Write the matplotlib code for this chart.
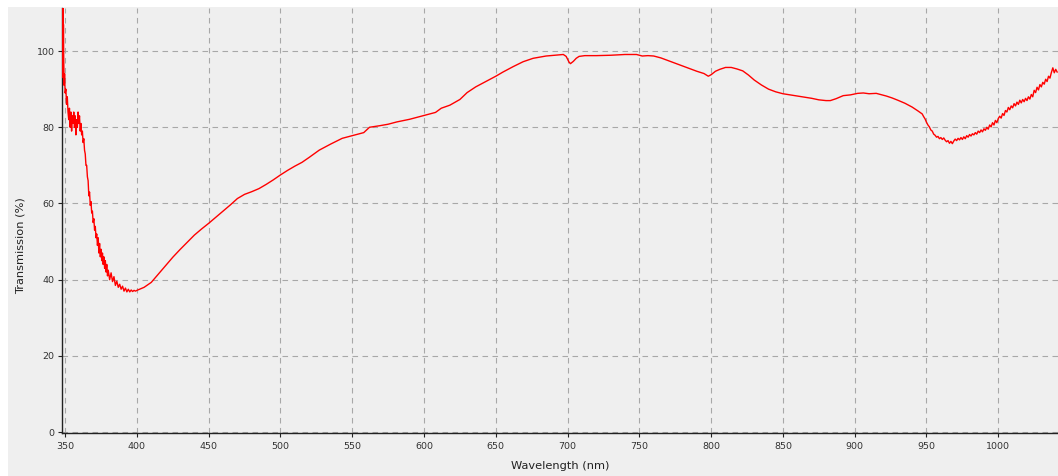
import matplotlib
matplotlib.use("Agg")
import matplotlib.pyplot as plt
from matplotlib.patches import Rectangle

# transmission spectrum, wavelength in nm / transmission in %
# short-wavelength end (noisy detector edge)
wl_blue = [347.6, 347.8, 348.0, 348.2, 348.4, 348.6, 348.8, 349.0, 349.3, 349.6,
           350.0, 350.5, 351.0, 351.5, 352.0, 352.5, 353.0, 353.5, 354.0, 354.5,
           355.0, 355.5, 356.0, 356.5, 357.0, 357.5, 358.0, 358.5, 359.0, 359.5,
           360.0, 360.5, 361.0, 361.5, 362.0, 362.5, 363.0, 363.5, 364.0, 364.5,
           365.0, 365.5, 366.0, 366.5, 367.0, 367.5, 368.0, 368.5, 369.0, 369.5,
           370.0, 370.5, 371.0, 371.5, 372.0, 372.5, 373.0, 373.5, 374.0, 374.5,
           375.0, 375.5, 376.0, 376.5, 377.0, 377.5, 378.0, 378.5, 379.0, 379.5,
           380.0, 381, 382, 383, 384, 385, 386, 387, 388, 389,
           390, 391, 392, 393, 394, 395, 396, 397, 398, 399]
tr_blue = [111, 96, 110, 101, 112, 93, 107, 98, 91, 94,
           89, 90, 86, 88, 84, 82, 85, 80, 84, 79,
           83, 81, 84, 80, 83, 78, 82, 80, 84, 81,
           83, 79, 81, 78, 79, 76, 77, 74, 73, 70,
           70, 67, 66, 62, 63, 59.5, 60.5, 57.5, 58, 55,
           56, 53, 54, 51, 52, 49, 51, 47, 49.5, 46,
           48, 45, 47, 44, 46, 43, 45, 42, 44, 41,
           42.5, 40, 41.8, 39.5, 40.8, 38.5, 39.6, 38, 38.8, 37.5,
           38.3, 37, 37.8, 36.8, 37.5, 36.8, 37.3, 36.9, 37.2, 37]

# smooth middle part
wl_mid = [400, 405, 410, 415, 420, 425, 430, 435, 440, 445,
          450, 455, 460, 465, 470, 475, 480, 485, 490, 495,
          500, 505, 510, 515, 520, 527, 535, 543, 550, 558,
          562, 569, 575, 581, 590, 595, 601, 608, 612, 618,
          625, 630, 636, 640, 645, 650, 655, 662, 669, 676,
          685, 694, 697, 699, 701, 702, 704, 706, 708, 712,
          720, 730, 740, 748, 752, 756, 760, 765, 770, 775,
          780, 785, 790, 795, 798, 800, 803, 806, 810, 814,
          818, 822, 826, 830, 835, 840, 845, 850, 855, 860,
          865, 870, 875, 880, 883, 887, 892, 897, 902, 906,
          910, 915, 918, 922, 926, 930, 935, 940, 944]
tr_mid = [37.2, 38, 39.3, 41.5, 43.7, 45.9, 47.9, 49.8, 51.7, 53.3,
          54.8, 56.4, 58, 59.6, 61.3, 62.4, 63.1, 63.9, 65, 66.2,
          67.5, 68.7, 69.8, 70.8, 72.1, 74, 75.6, 77.1, 77.8, 78.6,
          80, 80.4, 80.8, 81.4, 82.1, 82.6, 83.2, 83.9, 85, 85.8,
          87.3, 89.1, 90.6, 91.4, 92.4, 93.4, 94.5, 95.9, 97.2, 98.1,
          98.7, 99, 99.1, 98.6, 97.1, 96.7, 97.3, 98.1, 98.6, 98.8,
          98.8, 98.9, 99.1, 99.1, 98.7, 98.8, 98.7, 98.2, 97.5, 96.8,
          96.1, 95.4, 94.7, 94.1, 93.4, 93.8, 94.7, 95.2, 95.7, 95.7,
          95.3, 94.8, 93.7, 92.4, 91.1, 90, 89.3, 88.8, 88.5, 88.2,
          87.9, 87.6, 87.2, 87, 87, 87.5, 88.3, 88.5, 88.9, 89,
          88.8, 88.9, 88.6, 88.2, 87.7, 87.1, 86.3, 85.3, 84.3]

# long-wavelength end (noisy again)
wl_red = [947, 948, 949, 950, 951, 952, 953, 954, 955, 956,
          957, 958, 959, 960, 961, 962, 963, 964, 965, 966,
          967, 968, 969, 970, 971, 972, 973, 974, 975, 976,
          977, 978, 979, 980, 981, 982, 983, 984, 985, 986,
          987, 988, 989, 990, 991, 992, 993, 994, 995, 996,
          997, 998, 999, 1000, 1001, 1002, 1003, 1004, 1005, 1006,
          1007, 1008, 1009, 1010, 1011, 1012, 1013, 1014, 1015, 1016,
          1017, 1018, 1019, 1020, 1021, 1022, 1023, 1024, 1025, 1026,
          1027, 1028, 1029, 1030, 1031, 1032, 1033, 1034, 1035, 1036,
          1037, 1038, 1039, 1040, 1041]
tr_red = [83.5, 82.8, 82.2, 81.3, 80.6, 80.1, 79.3, 79.0, 78.2, 77.9,
          77.4, 77.6, 77.0, 77.3, 76.8, 77.2, 76.6, 76.2, 76.5, 75.8,
          76.3, 75.7, 76.4, 76.9, 76.5, 77.1, 76.7, 77.3, 76.8, 77.5,
          77.0, 77.8, 77.4, 78.1, 77.7, 78.3, 78.0, 78.6, 78.2, 79.0,
          78.6, 79.3, 78.8, 79.6, 79.2, 80.0, 79.5, 80.6, 80.1, 81.2,
          80.6, 81.8, 81.2, 82.3, 82.9, 82.4, 83.6, 83.1, 84.4, 84.0,
          85.2, 84.6, 85.6, 85.1, 86.2, 85.6, 86.6, 86.0, 87.1, 86.4,
          87.3, 86.7, 87.6, 87.0, 88.0, 87.4, 88.6, 88.0, 89.7, 89.1,
          90.5, 89.8, 91.2, 90.6, 91.8, 91.3, 92.6, 92.0, 93.4, 92.9,
          94.4, 95.6, 94.3, 95.2, 94.5]

x_ticks = [350, 400, 450, 500, 550, 600, 650, 700, 750, 800, 850, 900, 950, 1000]
y_ticks = [0, 20, 40, 60, 80, 100]

wl = wl_blue + wl_mid + wl_red
tr = tr_blue + tr_mid + tr_red

W, H = 1058, 476
BG = "#efefef"

fig = plt.figure(figsize=(W / 100, H / 100), dpi=100, facecolor="white")
# grey panel behind everything, white strip along top and left edge
fig.patches.append(Rectangle((8 / W, 0), 1 - 8 / W, 1 - 7 / H,
                             transform=fig.transFigure, facecolor=BG,
                             edgecolor="none", zorder=-5))

ax = fig.add_axes([61.7 / W, 1 - 432.5 / H, 1 - 61.7 / W, (432.5 - 8) / H])
ax.set_facecolor(BG)
ax.plot(wl, tr, color="#ff0000", lw=1.0, zorder=3)

ax.set_xlim(347.6, 1041.6)
ax.set_ylim(-0.1, 111.3)
ax.set_xticks(x_ticks)
ax.set_yticks(y_ticks)
ax.grid(True, color="#a8a8a8", linestyle=(0, (5, 4)), linewidth=0.8)
ax.set_axisbelow(True)

for side in ("top", "right"):
    ax.spines[side].set_visible(False)
for side in ("left", "bottom"):
    ax.spines[side].set_color("#222222")
    ax.spines[side].set_linewidth(1.0)

ax.tick_params(axis="both", direction="out", length=3, width=0.8,
               color="#222222", labelsize=6.8, labelcolor="#333333")
ax.tick_params(axis="x", pad=4)
ax.tick_params(axis="y", pad=2)
ax.set_xlabel("Wavelength (nm)", fontsize=8.2, color="#222222")
ax.set_ylabel("Transmission (%)", fontsize=8.2, color="#222222")
ax.xaxis.set_label_coords(0.5, -28.5 / 424.5)
ax.yaxis.set_label_coords(-36 / 996.3, 0.44)

fig.savefig("out.png", dpi=100, facecolor="white")
